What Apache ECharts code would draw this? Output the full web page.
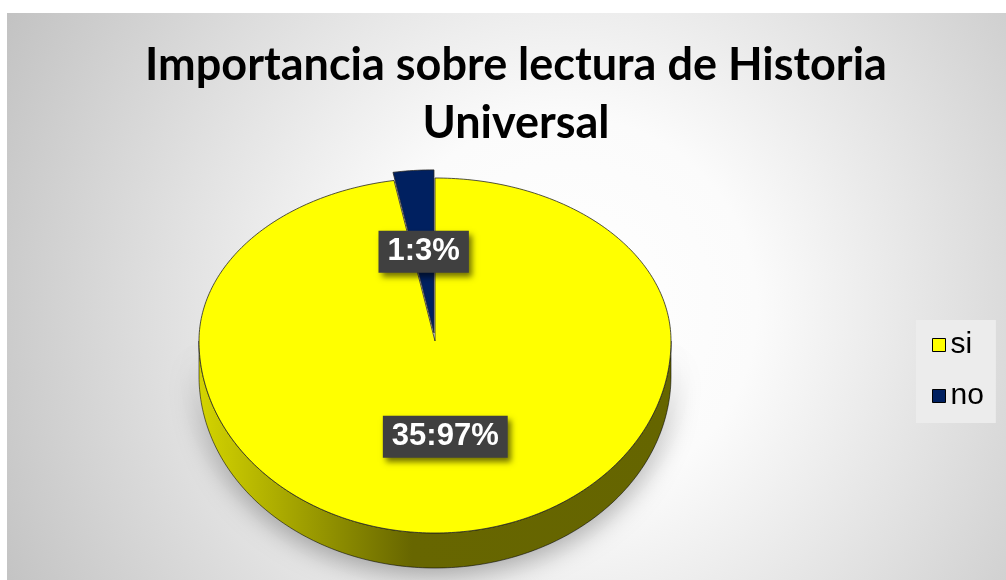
<!DOCTYPE html>
<html>
<head>
<meta charset="utf-8">
<script src="https://cdn.jsdelivr.net/npm/echarts@6/dist/echarts.min.js"></script>
<style>
  html, body { margin: 0; padding: 0; background: #fff; }
  #chart { width: 1006px; height: 580px; }
</style>
</head>
<body>
<div id="chart"></div>
<script>
// data
const categories = ['si', 'no'];
const counts = [35, 1];

// palette
const faceColors = ['#ffff00', '#002060'];
const sideColors = [
    { type: 'linear', x: 199, y: 0, x2: 672, y2: 0, global: true,
      colorStops: [
          { offset: 0, color: '#d6d600' },
          { offset: 0.3, color: '#8c8c00' },
          { offset: 0.45, color: '#686700' },
          { offset: 1, color: '#666600' }
      ] },
    '#001030'
];

// pie geometry (perspective ellipse)
const CX = 435, CY = 341, RX = 236, RY_BACK = 163, RY_FRONT = 192, DEPTH = 35;
const EXPLODE = [0, 0.05];

const total = counts.reduce((a, b) => a + b, 0);
const starts = [];
counts.reduce((acc, v, i) => { starts[i] = acc; return acc + v; }, 0);
const percents = counts.map(v => Math.round(v / total * 100));

function project(u, v, dz) {
    return [CX + RX * u, CY + (v < 0 ? RY_BACK : RY_FRONT) * v + dz];
}

function sliceGeometry(i) {
    const a0 = starts[i] / total * Math.PI * 2;
    const a1 = (starts[i] + counts[i]) / total * Math.PI * 2;
    const mid = (a0 + a1) / 2;
    const ox = Math.sin(mid) * EXPLODE[i];
    const oy = -Math.cos(mid) * EXPLODE[i];
    const pt = (a, r, dz) => project(ox + r * Math.sin(a), oy - r * Math.cos(a), dz);
    return { a0, a1, mid, pt };
}

function arc(pt, from, to, dz) {
    const pts = [];
    const n = Math.max(2, Math.ceil(Math.abs(to - from) / (Math.PI / 180)));
    for (let k = 0; k <= n; k++) {
        pts.push(pt(from + (to - from) * k / n, 1, dz));
    }
    return pts;
}

function renderSlice(params, api) {
    const i = api.value(0);
    const g = sliceGeometry(i);
    const children = [];

    // outer wall, only the front half is visible
    const s0 = Math.max(g.a0, Math.PI / 2);
    const s1 = Math.min(g.a1, Math.PI * 3 / 2);
    if (s0 < s1) {
        const top = arc(g.pt, s0, s1, 0);
        const bottom = arc(g.pt, s1, s0, DEPTH);
        children.push({
            type: 'polygon',
            z2: 1,
            shape: { points: top.concat(bottom) },
            style: {
                fill: sideColors[i],
                stroke: 'rgba(0,0,0,0.55)',
                lineWidth: 1,
                shadowBlur: 28,
                shadowColor: 'rgba(0,0,0,0.35)',
                shadowOffsetY: 6
            }
        });
    }

    // top face
    const face = [g.pt(0, 0, 0)].concat(arc(g.pt, g.a0, g.a1, 0));
    children.push({
        type: 'polygon',
        z2: 10,
        shape: { points: face },
        style: {
            fill: faceColors[i],
            stroke: 'rgba(40,40,40,0.8)',
            lineWidth: 1
        }
    });

    // data label
    const lp = g.pt(g.mid, 0.5, 0);
    children.push({
        type: 'text',
        z2: 20,
        style: {
            text: counts[i] + ':' + percents[i] + '%',
            x: lp[0],
            y: lp[1],
            align: 'center',
            verticalAlign: 'middle',
            font: 'bold 31px "Liberation Sans", Arial, sans-serif',
            fill: '#ffffff',
            backgroundColor: '#404040',
            padding: [6, 9, 5, 9],
            shadowBlur: 6,
            shadowColor: 'rgba(0,0,0,0.55)',
            shadowOffsetX: 3,
            shadowOffsetY: 4
        }
    });

    return { type: 'group', children };
}

const chart = echarts.init(document.getElementById('chart'));

chart.setOption({
    animation: false,
    backgroundColor: '#ffffff',
    graphic: [{
        type: 'rect',
        shape: { x: 7, y: 13, width: 999, height: 567 },
        style: {
            fill: {
                type: 'radial', x: 0.56, y: 0.52, r: 1.12,
                colorStops: [
                    { offset: 0, color: '#ffffff' },
                    { offset: 0.3, color: '#fbfbfb' },
                    { offset: 1, color: '#c2c2c2' }
                ]
            }
        },
        z: -10
    }],
    title: {
        text: 'Importancia sobre lectura de Historia\nUniversal',
        left: 511,
        top: 31,
        textAlign: 'center',
        textStyle: {
            fontFamily: 'Lato, "Liberation Sans", sans-serif',
            fontWeight: 'bold',
            fontSize: 45,
            lineHeight: 58,
            color: '#000000'
        }
    },
    legend: {
        orient: 'vertical',
        left: 916,
        top: 320,
        icon: 'rect',
        itemWidth: 13,
        itemHeight: 13,
        itemGap: 21,
        padding: [10, 12, 12, 16],
        backgroundColor: '#ececec',
        data: categories,
        itemStyle: { borderColor: '#000000', borderWidth: 1 },
        textStyle: {
            fontFamily: '"Liberation Sans", Arial, sans-serif',
            fontSize: 30,
            lineHeight: 30,
            color: '#000000'
        }
    },
    series: categories.map((name, i) => ({
        type: 'custom',
        name,
        coordinateSystem: 'none',
        itemStyle: { color: faceColors[i] },
        renderItem: renderSlice,
        data: [[i, counts[i]]]
    }))
});
</script>
</body>
</html>
